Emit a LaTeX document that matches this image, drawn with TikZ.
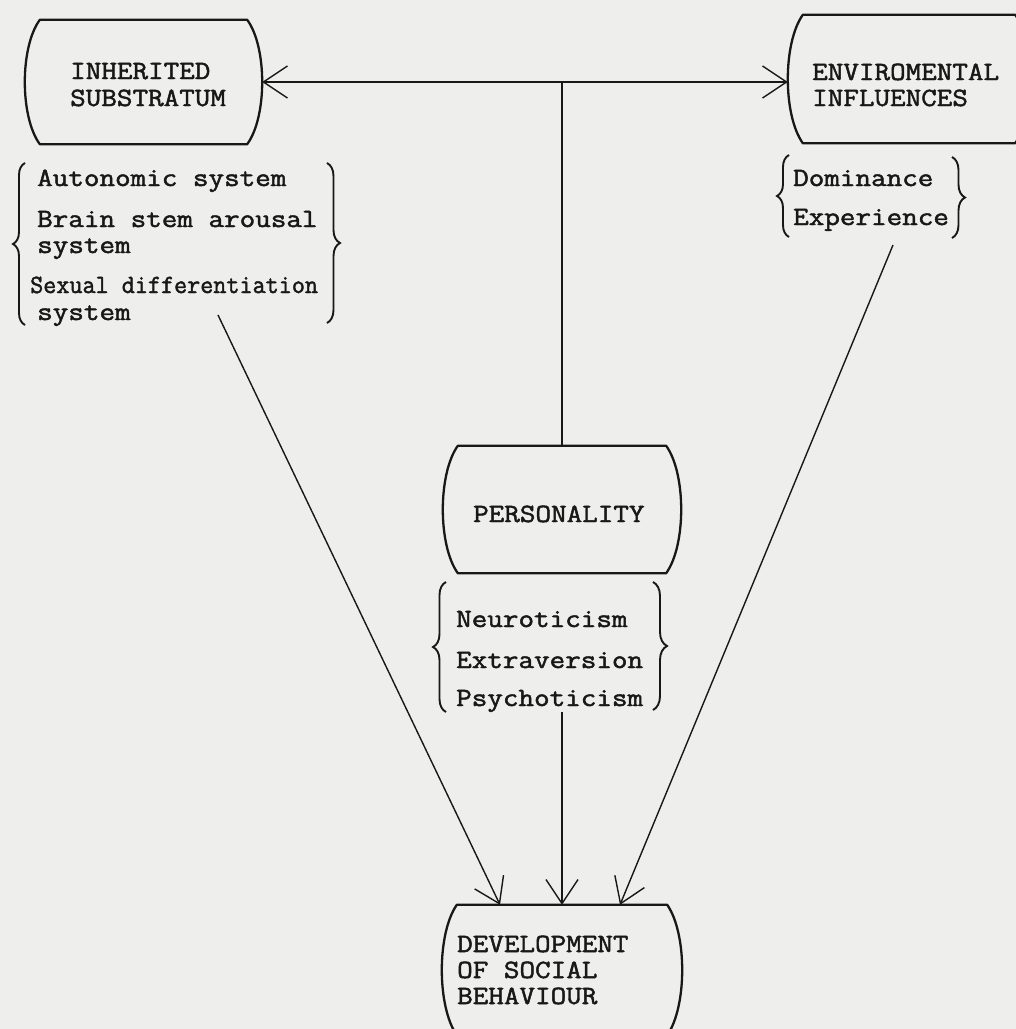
\documentclass[tikz,border=0pt]{standalone}
\usepackage{fontspec}
\usepackage{graphicx}
\newfontfamily\typewriter{Latin Modern Mono}[FakeStretch=1.15, FakeBold=1.8]
\usetikzlibrary{arrows.meta,calc,decorations.pathreplacing}

\definecolor{paper}{RGB}{238,238,236}
\definecolor{ink}{RGB}{24,24,24}

% outline of a box with straight top/bottom and bulging sides
\newcommand\drawbarrel[1]{%
  \draw[boxline]
    ($(#1.north west)+(15,0)$) -- ($(#1.north east)+(-15,0)$)
    .. controls ($(#1.north east)!0.22!(#1.south east)+(5,0)$)
            and ($(#1.north east)!0.78!(#1.south east)+(5,0)$)
    .. ($(#1.south east)+(-15,0)$)
    -- ($(#1.south west)+(15,0)$)
    .. controls ($(#1.south west)!0.22!(#1.north west)+(-5,0)$)
            and ($(#1.south west)!0.78!(#1.north west)+(-5,0)$)
    .. cycle;}

\tikzset{
  vtip/.tip={Straight Barb[length=24pt,width=32pt]},
  boxnode/.style={draw=none, inner sep=0pt, rectangle},
  boxline/.style={draw=ink, line width=2.3pt, line join=round},
  conn/.style={draw=ink, line width=1.4pt},
  brc/.style={draw=ink, line width=1.9pt, decorate},
  txt/.style={text=ink, inner sep=0pt, anchor=base west,
    font=\typewriter\fontsize{26.3}{27}\selectfont},
}

\begin{document}
\begin{tikzpicture}[x=1pt, y=-1pt]
  \fill[paper] (0,0) rectangle (1016,1029);
  \useasboundingbox (0,0) rectangle (1016,1029);

  % boxes
  \node[boxnode, minimum width=237pt, minimum height=124pt] (inh) at (143.5,82) {};
  \node[boxnode, minimum width=242pt, minimum height=128pt] (env) at (909,79) {};
  \node[boxnode, minimum width=238pt, minimum height=127pt] (pers) at (562,509.5) {};
  \node[boxnode, minimum width=240pt, minimum height=130pt] (dev) at (562,970) {};
  \drawbarrel{inh}
  \drawbarrel{env}
  \drawbarrel{pers}
  \drawbarrel{dev}

  % box titles
  \node[txt] (inh1) at (70,79) {INHERITED};
  \node[txt] (inh2) at (70,106) {SUBSTRATUM};
  \node[txt] (env1) at (812,80) {ENVIROMENTAL};
  \node[txt] (env2) at (812,106) {INFLUENCES};
  \node[txt] (pers1) at (473,522) {PERSONALITY};
  \node[txt] (dev1) at (457,952) {DEVELOPMENT};
  \node[txt] (dev2) at (457,978) {OF SOCIAL};
  \node[txt] (dev3) at (457,1004) {BEHAVIOUR};

  % lists
  \node[txt] (a1) at (37,186) {Autonomic system};
  \node[txt] (a2) at (37,227) {Brain stem arousal};
  \node[txt] (a3) at (37,253) {system};
  \node[txt] (a4) at (30,293) {\scalebox{0.84}[1]{Sexual differentiation}};
  \node[txt] (a5) at (37,320) {system};

  \node[txt] (b1) at (793,186) {Dominance};
  \node[txt] (b2) at (793,225) {Experience};

  \node[txt] (c1) at (456,627) {Neuroticism};
  \node[txt] (c2) at (456,668) {Extraversion};
  \node[txt] (c3) at (456,706) {Psychoticism};

  % braces
  \draw[brc, decoration={brace, amplitude=12pt}] (25,325) -- (25,163);
  \draw[brc, decoration={brace, amplitude=13pt}] (327,163) -- (327,323);
  \draw[brc, decoration={brace, amplitude=12pt}] (789,237) -- (789,155);
  \draw[brc, decoration={brace, amplitude=13pt}] (952,157) -- (952,238);
  \draw[brc, decoration={brace, amplitude=13pt}] (446,712) -- (446,582);
  \draw[brc, decoration={brace, amplitude=14pt}] (653,582) -- (653,710);

  % connectors
  \coordinate (j) at (inh.east -| pers.north);
  \coordinate (ls) at (218,315);
  \coordinate (rs) at (893,245);
  \coordinate (ms) at (562,712);

  \draw[conn, vtip-vtip] (inh.east) -- (inh.east -| env.west);
  \draw[conn] (j) -- (pers.north);
  \draw[conn, -vtip] (ms) -- (dev.north);
  \draw[conn, -vtip] (ls) -- ($(dev.north)+(-62,0)$);
  \draw[conn, -vtip] (rs) -- ($(dev.north)+(58,0)$);
\end{tikzpicture}
\end{document}
